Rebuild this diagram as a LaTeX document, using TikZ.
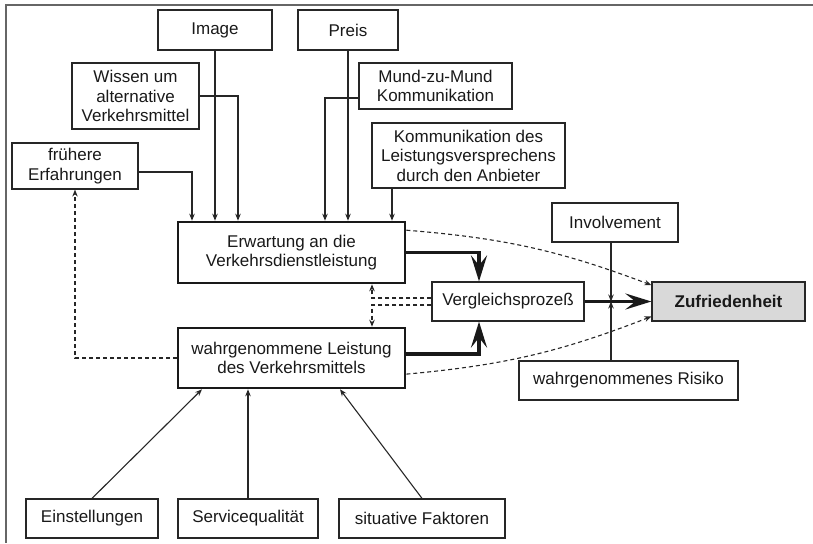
\documentclass[tikz,border=0pt]{standalone}
\usepackage{fontspec}
\setmainfont{Liberation Sans}
\usetikzlibrary{arrows.meta}

\begin{document}
\begin{tikzpicture}
  [x=1pt,y=-1pt,
   every node/.style={draw=black!85,line width=1.2pt,align=center,inner sep=2pt,
     font=\fontsize{17}{19.5}\selectfont,text=black!90},
   sz/.style 2 args={minimum width=#1pt,minimum height=#2pt},
   mainbox/.style={line width=2.6pt,draw=black!90},
   arr/.style={-{Stealth[length=7pt,width=5.5pt]},line width=1.1pt,draw=black!85},
   darr/.style={arr,dash pattern=on 4pt off 3pt},
   bigarr/.style={-{Stealth[length=26pt,width=16pt,inset=10pt]},line width=3.6pt,draw=black!90},
   pageframe/.style={line width=1.4pt,draw=black!60}]
  \useasboundingbox (0,0) rectangle (813,543);
  \draw[pageframe] (813,5) -- (6,5) -- (6,543);

  \node[sz={114}{40}] (img) at (215,30) {Image};
  \node[sz={100}{40}] (preis) at (348,30) {Preis};
  \node[sz={127}{66}] (wissen) at (135.5,96) {Wissen um\\alternative\\Verkehrsmittel};
  \node[sz={153}{46}] (mund) at (435.5,86) {Mund-zu-Mund\\Kommunikation};
  \node[sz={193}{65}] (komm) at (468.5,155.5) {Kommunikation des\\Leistungsversprechens\\durch den Anbieter};
  \node[sz={126}{46}] (frueher) at (75,166) {frühere\\Erfahrungen};
  \node[mainbox,sz={227}{61}] (erw) at (291.5,252.5) {Erwartung an die\\Verkehrsdienstleistung};
  \node[mainbox,sz={227}{60}] (leist) at (291.5,358) {wahrgenommene Leistung\\des Verkehrsmittels};
  \node[sz={152}{39}] (vergl) at (508,301.5) {Vergleichsprozeß};
  \node[sz={153}{39},fill=black!15,font=\fontsize{17}{19.5}\selectfont\bfseries] (zuf) at (728.5,301.5) {Zufriedenheit};
  \node[sz={126}{39}] (inv) at (615,222.5) {Involvement};
  \node[sz={219}{39}] (risiko) at (628.5,380.5) {wahrgenommenes Risiko};
  \node[sz={132}{39}] (einst) at (92,518.5) {Einstellungen};
  \node[sz={140}{39}] (serv) at (248,518.5) {Servicequalität};
  \node[sz={166}{39}] (situ) at (422,518.5) {situative Faktoren};
  \coordinate (cross) at (611,301.5);

  % influences on the expectation
  \draw[arr] ([yshift=-6pt]frueher.east) -| ([xshift=-99.5pt]erw.north);
  \draw[arr] (wissen.east) -| ([xshift=-53.5pt]erw.north);
  \draw[arr] ([yshift=-12pt]mund.west) -| ([xshift=33.5pt]erw.north);
  \foreach \src in {img,preis}
    \draw[arr] (\src.south) -- (\src.south |- erw.north);
  \draw[arr] ([xshift=-76.5pt]komm.south) -- ([xshift=100.5pt]erw.north);

  % influences on the perceived performance
  \foreach \src/\dx in {einst/-89.5,situ/48.5}
    \draw[arr] (\src.north) -- ([xshift=\dx pt]leist.south);
  \draw[arr] (serv.north) -- (serv.north |- leist.south);

  % comparison
  \draw[bigarr] (erw.east) -| ([xshift=-29pt]vergl.north);
  \draw[bigarr] ([yshift=4pt]leist.east) -| ([xshift=-29pt]vergl.south);
  \draw[bigarr] (vergl.east) -- (zuf.west);

  \draw[darr] ([yshift=3.5pt]vergl.west) -| ([xshift=80.5pt]erw.south);
  \draw[darr] ([yshift=-3.5pt]vergl.west) -| ([xshift=80.5pt]leist.north);
  \draw[darr] (leist.west) -| (frueher.south);
  \draw[darr] (erw.11) to[bend left=8] (zuf.168);
  \draw[darr] (leist.-8) to[bend right=8] (zuf.191);

  % moderators
  \draw[arr] (inv.south -| cross) -- (cross);
  \draw[arr] (risiko.north -| cross) -- (cross);

\end{tikzpicture}
\end{document}
